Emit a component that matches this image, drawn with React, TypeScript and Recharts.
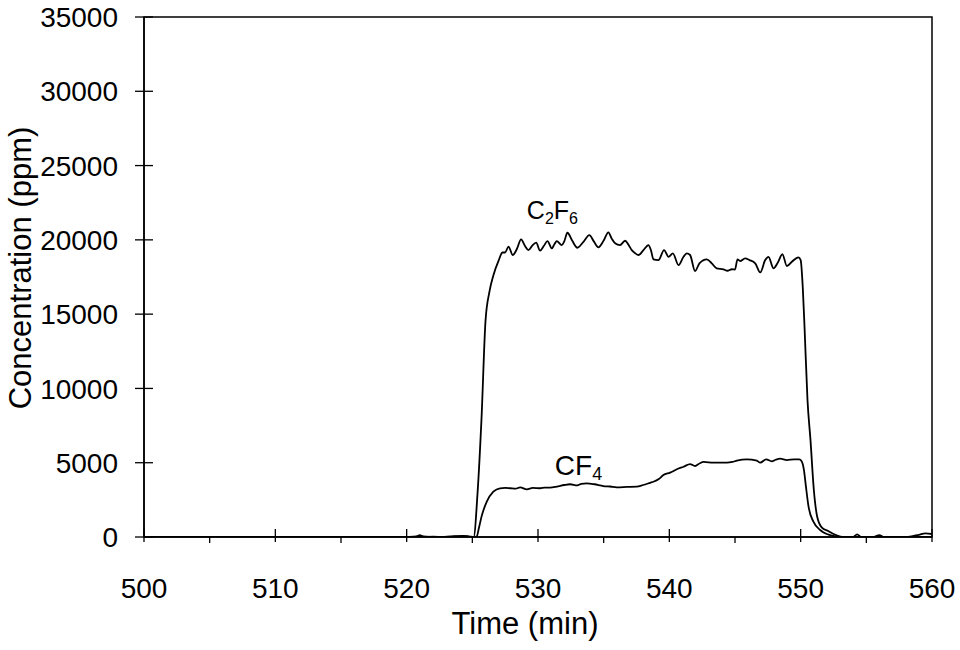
import { LineChart, Line, XAxis, YAxis, ReferenceArea, ReferenceDot } from "recharts"

const FONT = "'Liberation Sans', Arial, sans-serif"

// time (min) and concentration (ppm)
const c2f6Time = [
  500, 505, 510, 515, 520, 520.7, 521.0, 521.3, 522.0, 522.8, 523.6, 524.3, 524.8, 525.1,
  525.4, 525.7, 526.0, 526.3, 526.6, 527.0, 527.3, 527.5, 527.75, 528.08, 528.4, 528.71,
  529.0, 529.27, 529.55, 529.86, 530.16, 530.45, 530.72, 531.05, 531.25, 531.43, 531.81,
  532.0, 532.24, 532.6, 533.0, 533.46, 533.91, 534.25, 534.6, 535.0, 535.36, 535.6, 535.87,
  536.25, 536.63, 536.9, 537.14, 537.4, 537.65, 538.03, 538.41, 538.6, 538.79, 539.17,
  539.6, 539.94, 540.27, 540.7, 541.08, 541.33, 541.58, 541.96, 542.29, 542.85, 543.23,
  543.61, 544.12, 544.42, 544.76, 545.0, 545.19, 545.39, 545.77, 546.1, 546.54, 546.92,
  547.3, 547.55, 547.93, 548.23, 548.61, 548.95, 549.33, 549.83, 550.0, 550.16, 550.3,
  550.52, 550.75, 551.0, 551.25, 551.6, 552.1, 552.7, 553.2, 554.0, 554.3, 554.6, 555.5,
  556.0, 556.3, 558.0, 559.0, 559.5, 560,
]
const c2f6Values = [
  0, 0, 0, 0, 0, 0, 120, 0, 30, 0, 50, 80, 30, 0,
  3000, 8000, 14500, 16500, 17600, 18600, 19150, 19150, 19550, 18980, 19400, 20030,
  19600, 19310, 19600, 19810, 19270, 19600, 19920, 19430, 19700, 19920, 19650,
  19900, 20480, 19950, 19470, 19870, 20320, 19900, 19500, 19950, 20510, 20100, 19770,
  19650, 19940, 19650, 19310, 19100, 18980, 19310, 19650, 19300, 18690, 18640,
  19310, 18860, 19090, 18300, 18860, 19090, 18980, 17900, 18420, 18690, 18420,
  18080, 18020, 17920, 18020, 18000, 18690, 18570, 18750, 18640, 18420, 17810,
  18640, 18860, 18080, 18420, 19030, 18240, 18530, 18820, 18640, 16800, 14000,
  9220, 6500, 3200, 1400, 650, 400, 130, 0, 0, 180, 0, 0,
  130, 0, 0, 150, 250, 200,
]

const cf4Time = [
  500, 505, 510, 515, 520, 521.0, 522.0, 524.3, 525.0, 525.33, 525.5, 525.7, 526.1, 526.6,
  527.11, 527.5, 527.87, 528.3, 528.64, 529.15, 529.6, 530.16, 530.5, 530.92, 531.43, 532.0,
  532.44, 533.0, 533.3, 533.71, 534.3, 534.98, 535.5, 535.99, 536.8, 537.52, 538.0, 538.54,
  538.79, 539.2, 539.55, 540.06, 540.57, 541.08, 541.58, 541.96, 542.3, 542.6, 543.36,
  544.38, 544.8, 545.14, 545.9, 546.66, 546.92, 547.37, 547.8, 548.1, 548.44, 548.95,
  549.5, 549.91, 550.09, 550.25, 550.4, 550.6, 550.97, 551.48, 551.99, 552.5, 553.0, 560,
]
const cf4Values = [
  0, 0, 0, 0, 0, 60, 0, 40, 0, 20, 600, 1370, 2380, 3050,
  3280, 3300, 3280, 3250, 3340, 3210, 3300, 3280, 3330, 3320, 3390, 3500,
  3550, 3480, 3580, 3610, 3550, 3430, 3400, 3340, 3370, 3390, 3500, 3650,
  3720, 3900, 4170, 4330, 4560, 4730, 4910, 4780, 4950, 5050, 5000,
  5000, 5050, 5140, 5230, 5140, 5000, 5230, 5090, 5200, 5270, 5180,
  5230, 5230, 5070, 4500, 3400, 2040, 1030, 470, 200, 70, 0, 0,
]

const xTicks = [500, 505, 510, 515, 520, 525, 530, 535, 540, 545, 550, 555, 560]
const yTicks = [0, 5000, 10000, 15000, 20000, 25000, 30000, 35000]

const c2f6Data = c2f6Time.map((t, i) => ({ t, v: c2f6Values[i] }))
const cf4Data = cf4Time.map((t, i) => ({ t, v: cf4Values[i] }))

const Y_TICK = 9
const Y_MARGIN = 17
const X_TICK = 5
const X_MARGIN = 36

const YTick = (props: any) => {
  const { x, y, payload } = props
  const axisX = x + Y_TICK + Y_MARGIN
  return (
    <g>
      <line x1={axisX - Y_TICK} x2={axisX + Y_TICK} y1={y} y2={y} stroke="#000" strokeWidth={1.3} />
      <text x={x} y={y} dy="0.36em" textAnchor="end" fontSize={28} fontFamily={FONT} fill="#000">
        {payload.value}
      </text>
    </g>
  )
}

const XTick = (props: any) => {
  const { x, y, payload } = props
  const axisY = y - X_TICK - X_MARGIN
  const major = payload.value % 10 === 0
  return (
    <g>
      <line
        x1={x}
        x2={x}
        y1={major ? axisY - 8 : axisY}
        y2={axisY + (major ? 5 : 6)}
        stroke="#000"
        strokeWidth={1.3}
      />
      {major && (
        <text x={x} y={y} dy="0.71em" textAnchor="middle" fontSize={28} fontFamily={FONT} fill="#000">
          {payload.value}
        </text>
      )}
    </g>
  )
}

const Formula = ({ viewBox, parts, size }: any) => {
  const { x, y } = viewBox
  return (
    <text x={x} y={y} textAnchor="middle" fontSize={size} fontFamily={FONT} fill="#000">
      {parts.map((p: [string, boolean], i: number) =>
        p[1] ? (
          <tspan key={i} fontSize={size * 0.64} dy={5}>
            {p[0]}
          </tspan>
        ) : (
          <tspan key={i} dy={i > 0 && parts[i - 1][1] ? -5 : 0}>
            {p[0]}
          </tspan>
        )
      )}
    </text>
  )
}

export default function App() {
  return (
    <div style={{ position: "absolute", left: 0, top: 0, background: "#fff" }}>
      <LineChart width={960} height={650} margin={{ top: 17, right: 28, bottom: 0, left: 0 }}>
        <XAxis
          dataKey="t"
          type="number"
          domain={[500, 560]}
          ticks={xTicks}
          interval={0}
          allowDataOverflow
          height={113}
          tickSize={X_TICK}
          tickMargin={X_MARGIN}
          tickLine={false}
          tick={XTick}
          axisLine={{ stroke: "#000", strokeWidth: 1.5 }}
          label={{
            value: "Time (min)",
            position: "insideBottom",
            offset: 16,
            dx: -13,
            fontSize: 31,
            fontFamily: FONT,
            fill: "#000",
          }}
        />
        <YAxis
          dataKey="v"
          type="number"
          domain={[0, 35000]}
          ticks={yTicks}
          interval={0}
          allowDataOverflow
          width={144}
          tickSize={Y_TICK}
          tickMargin={Y_MARGIN}
          tickLine={false}
          tick={YTick}
          axisLine={{ stroke: "#000", strokeWidth: 1.5 }}
          label={{
            content: ({ viewBox }: any) => {
              const cx = 20
              const cy = viewBox.y + viewBox.height / 2 - 9
              return (
                <text
                  x={cx}
                  y={cy}
                  dy="0.36em"
                  textAnchor="middle"
                  transform={`rotate(-90, ${cx}, ${cy})`}
                  fontSize={31}
                  fontFamily={FONT}
                  fill="#000"
                >
                  Concentration (ppm)
                </text>
              )
            },
          }}
        />
        <ReferenceArea x1={500} x2={560} y1={0} y2={35000} fill="none" stroke="#000" strokeWidth={1.5} />
        <Line
          data={c2f6Data}
          dataKey="v"
          type="monotone"
          stroke="#000"
          strokeWidth={1.8}
          dot={false}
          isAnimationActive={false}
        />
        <Line
          data={cf4Data}
          dataKey="v"
          type="monotone"
          stroke="#000"
          strokeWidth={1.8}
          dot={false}
          isAnimationActive={false}
        />
        <ReferenceDot
          x={531.1}
          y={21400}
          r={0}
          fill="none"
          stroke="none"
          label={{
            content: (p: any) => (
              <Formula {...p} size={25} parts={[["C", false], ["2", true], ["F", false], ["6", true]]} />
            ),
          }}
        />
        <ReferenceDot
          x={533.08}
          y={4170}
          r={0}
          fill="none"
          stroke="none"
          label={{ content: (p: any) => <Formula {...p} size={28} parts={[["CF", false], ["4", true]]} /> }}
        />
      </LineChart>
    </div>
  )
}
